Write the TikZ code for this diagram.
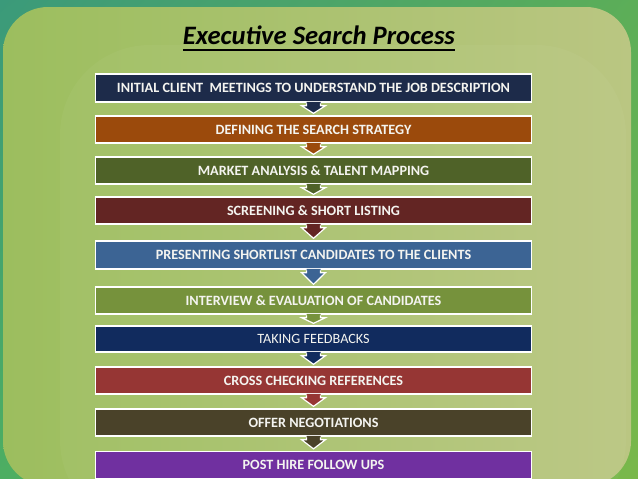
\documentclass[tikz,border=0pt]{standalone}
\usepackage{fontspec}
\setmainfont{Carlito}
\usetikzlibrary{calc,shadings}
\definecolor{cA}{HTML}{1D2B4A}
\definecolor{cB}{HTML}{9B4A0C}
\definecolor{cC}{HTML}{4F6228}
\definecolor{cD}{HTML}{632523}
\definecolor{cE}{HTML}{3C6494}
\definecolor{cF}{HTML}{76923C}
\definecolor{cG}{HTML}{112B5E}
\definecolor{cH}{HTML}{963634}
\definecolor{cI}{HTML}{4A4229}
\definecolor{cJ}{HTML}{7030A0}
\definecolor{bgTL}{HTML}{3B9A7A}
\definecolor{bgTR}{HTML}{5CAE58}
\definecolor{bgBL}{HTML}{4DAE62}
\definecolor{bgBR}{HTML}{7AB84A}
\definecolor{panL}{HTML}{9CBE5E}
\definecolor{panR}{HTML}{BAC682}
\definecolor{txt}{HTML}{F4F4F0}
\newcommand\flowarrow[3]{%
  \fill[#3] ($(#1.south)+(-7,-0.8)$) -- ($(#1.south)+(-7,3)$) -- ($(#1.south)+(-12,3)$)
    -- ($(#2.north)+(0,-2)$) -- ($(#1.south)+(12,3)$) -- ($(#1.south)+(7,3)$)
    -- ($(#1.south)+(7,-0.8)$) -- cycle;
  \draw[white, line width=1.2pt, line join=miter] ($(#1.south)+(-7,0.6)$) -- ($(#1.south)+(-7,3)$) -- ($(#1.south)+(-12,3)$)
    -- ($(#2.north)+(0,-2)$) -- ($(#1.south)+(12,3)$) -- ($(#1.south)+(7,3)$)
    -- ($(#1.south)+(7,0.6)$);
}
\begin{document}
\begin{tikzpicture}[x=1pt,y=-1pt,
  stepbox/.style={fill=#1, draw=white, line width=1.3pt, minimum width=436pt,
    inner sep=0pt, text height=9pt, text depth=0pt, text=txt,
    font=\fontsize{14.2}{15}\selectfont\bfseries},
  steplight/.style={font=\fontsize{14.2}{15}\selectfont}]
\useasboundingbox (0,0) rectangle (638,479);
% background
\shade[upper left=bgTL, upper right=bgTR, lower left=bgBL, lower right=bgBR] (0,0) rectangle (638,479);
\shade[rounded corners=45pt, left color=panL, right color=panR] (3,7) rectangle (631,486);
\fill[white, opacity=0.035, rounded corners=90pt] (60,45) rectangle (626,530);
% title
\node[anchor=base, font=\fontsize{26.6}{28}\selectfont\bfseries\itshape, inner sep=0pt] (title) at (319,45) {Executive Search Process};
\draw[line width=1.6pt] ($(title.base west)+(0,5)$) -- ($(title.base east)+(0,5)$);
% boxes
\node[stepbox=cA, minimum height=28pt] (b1) at (313.5,88) {INITIAL CLIENT\ \ MEETINGS TO UNDERSTAND THE JOB DESCRIPTION};
\node[stepbox=cB, minimum height=27pt] (b2) at (313.5,129.5) {DEFINING THE SEARCH STRATEGY};
\node[stepbox=cC, minimum height=27pt] (b3) at (313.5,170.5) {MARKET ANALYSIS \& TALENT MAPPING};
\node[stepbox=cD, minimum height=27pt] (b4) at (313.5,210.5) {SCREENING \& SHORT LISTING};
\node[stepbox=cE, minimum height=28pt] (b5) at (313.5,255) {PRESENTING SHORTLIST CANDIDATES TO THE CLIENTS};
\node[stepbox=cF, minimum height=27pt] (b6) at (313.5,300.5) {INTERVIEW \& EVALUATION OF CANDIDATES};
\node[stepbox=cG, minimum height=26pt, steplight] (b7) at (313.5,339) {TAKING FEEDBACKS};
\node[stepbox=cH, minimum height=27pt] (b8) at (313.5,380.5) {CROSS CHECKING REFERENCES};
\node[stepbox=cI, minimum height=27pt] (b9) at (313.5,422.5) {OFFER NEGOTIATIONS};
\node[stepbox=cJ, minimum height=27pt] (b10) at (313.5,465) {POST HIRE FOLLOW UPS};
% arrows
\flowarrow{b1}{b2}{cA}
\flowarrow{b2}{b3}{cB}
\flowarrow{b3}{b4}{cC}
\flowarrow{b4}{b5}{cD}
\flowarrow{b5}{b6}{cE}
\flowarrow{b6}{b7}{cF}
\flowarrow{b7}{b8}{cG}
\flowarrow{b8}{b9}{cH}
\flowarrow{b9}{b10}{cI}
\end{tikzpicture}
\end{document}
